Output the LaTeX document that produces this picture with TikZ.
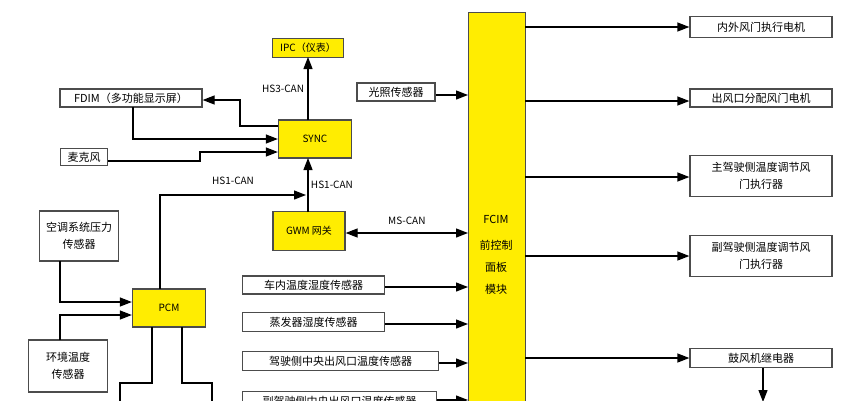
\documentclass[tikz,border=0pt]{standalone}
\usepackage{fontspec}
\setmainfont{Noto Sans CJK SC}
\usetikzlibrary{arrows.meta}
\tikzset{>={Triangle[length=12pt,width=9pt]}}
\tikzset{
  box/.style={draw=black!70, fill=white, inner sep=0pt, font=\fontsize{11}{17}\selectfont, align=center},
  ybox/.style={draw=black!70, fill=yellow!95!orange, inner sep=0pt, font=\fontsize{10}{12}\selectfont, align=center},
  lbl/.style={font=\fontsize{10}{11}\selectfont}
}
\begin{document}
\begin{tikzpicture}[x=1pt,y=-1pt,line width=1.3pt]
			\useasboundingbox (0,0) rectangle (854,400);
			\begin{scope}
			\clip (0,0) rectangle (854,400);
			% main module
			\node [ybox, minimum width=57pt, minimum height=420pt, anchor=north west] (fcim) at (468,12) {};
			\node [font=\fontsize{11}{22}\selectfont, align=center] at (496,255) {FCIM\\[4pt]前控制\\面板\\模块};
			% outputs
			\node [box, minimum width=142pt, minimum height=21pt] (door) at (761,27) {内外风门执行电机};
			\node [box, minimum width=142pt, minimum height=18pt] (vent) at (761,98) {出风口分配风门电机};
			\node [box, minimum width=142pt, minimum height=41pt] (drv) at (761,176) {主驾驶侧温度调节风\\门执行器};
			\node [box, minimum width=142pt, minimum height=41pt] (pas) at (761,256) {副驾驶侧温度调节风\\门执行器};
			\node [box, minimum width=142pt, minimum height=19pt] (blow) at (761,358) {鼓风机继电器};
			\coordinate (blowend) at (763,402);
			\foreach \n/\y in {door/27, vent/101, drv/177, pas/256, blow/358}
				\draw [->] (525,\y) -- (\n.west |- 0,\y);
			\draw [->] (blow.south -| blowend) -- (blowend);
			% can bus nodes
			\node [ybox, minimum width=71pt, minimum height=19pt] (ipc) at (308,48) {IPC（仪表）};
			\node [ybox, minimum width=73pt, minimum height=38pt] (sync) at (315,139) {SYNC};
			\node [ybox, minimum width=72pt, minimum height=39pt] (gwm) at (309,231) {GWM 网关};
			\node [ybox, minimum width=73pt, minimum height=38pt] (pcm) at (169,308) {PCM};
			\draw [->] (308,120) -- (308,57) node [lbl, midway, left] {HS3-CAN};
			\draw [->] (308,212) -- (308,158) node [lbl, midway, right=-1pt] {HS1-CAN};
			\draw [->] (160,289) |- (306,195) node [lbl, pos=0.75, above=6pt] {HS1-CAN};
			\draw [<->] (gwm.east |- 0,233) -- (468,233) node [lbl, midway, above=4pt] {MS-CAN};
			% sync inputs
			\node [box, minimum width=142pt, minimum height=18pt] (fdim) at (131,98) {FDIM（多功能显示屏）};
			\node [box, minimum width=47pt, minimum height=17pt] (mic) at (84,157) {麦克风};
			\draw [->] (sync.west |- 0,126) -| (240,100) -- (fdim.east |- 0,100);
			\draw [->] (133,107) |- (sync.west |- 0,139);
			\draw [->] (mic.east |- 0,161) -| (200,152) -- (sync.west |- 0,152);
			\node [box, minimum width=78pt, minimum height=18pt] (light) at (396,92) {光照传感器};
			\draw [->] (light.east |- 0,95) -- (468,95);
			% pcm inputs
			\node [box, minimum width=79pt, minimum height=50pt] (press) at (79,236) {空调系统压力\\传感器};
			\node [box, minimum width=79pt, minimum height=52pt] (amb) at (68,366) {环境温度\\传感器};
			\draw [->] (60,261) |- (pcm.west |- 0,302);
			\draw [->] (60,340) |- (pcm.west |- 0,315);
			\draw (152,327) |- (120,383) -- (120,402);
			\draw (182,327) |- (212,383) -- (212,402);
			% fcim inputs
			\node [box, minimum width=142pt, minimum height=18pt, anchor=west] (cab) at (242,285) {车内温度湿度传感器};
			\node [box, minimum width=142pt, minimum height=19pt, anchor=west] (evap) at (242,322) {蒸发器湿度传感器};
			\node [box, minimum width=196pt, minimum height=19pt, anchor=west] (dvent) at (242,361) {驾驶侧中央出风口温度传感器};
			\node [box, minimum width=194pt, minimum height=19pt, anchor=west] (pvent) at (242,401) {副驾驶侧中央出风口温度传感器};
			\foreach \n/\y in {cab/287, evap/324, dvent/363, pvent/400}
				\draw [->] (\n.east |- 0,\y) -- (468,\y);
			\end{scope}
		\end{tikzpicture}
\end{document}
